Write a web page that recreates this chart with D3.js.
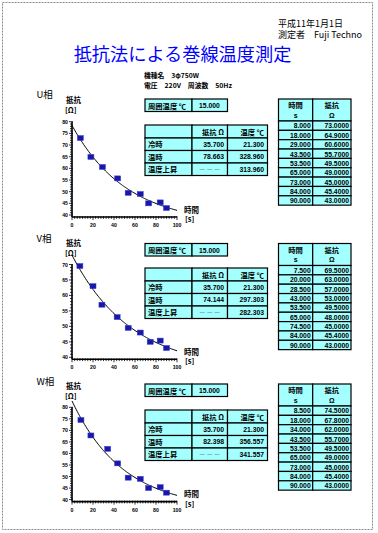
<!DOCTYPE html>
<html><head><meta charset="utf-8">
<script src="https://cdn.jsdelivr.net/npm/d3@7"></script>
<style>body{margin:0;background:#fff}svg{display:block}</style>
</head><body><svg id="c" width="378" height="533"></svg>
<script>
// ---------- data ----------
const phases = ["U相", "V相", "W相"];
const timesU = [8, 18, 29, 43.5, 53.5, 65, 73, 84, 90];
const resU   = [73, 64.9, 60.6, 55.7, 49.5, 49, 45, 45.4, 43];
const timesV = [7.5, 20, 28.5, 43, 53.5, 65, 74.5, 84, 90];
const resV   = [69.5, 63, 57, 53, 49.5, 48, 45, 45.4, 43];
const timesW = [8.5, 18, 34, 43.5, 53.5, 65, 73, 84, 90];
const resW   = [74.5, 67.8, 62, 55.7, 49.5, 49, 45, 45.4, 43];
const ambientTemp = [15, 15, 15];
const coldRes  = [35.7, 35.7, 35.7];
const coldTemp = [21.3, 21.3, 21.3];
const hotRes   = [78.663, 74.144, 82.398];
const hotTemp  = [328.960, 297.303, 356.557];
const riseTemp = [313.960, 282.303, 341.557];
const yMaxes = [80, 70, 80];
const yMin = 40;
const xTicks = [0, 20, 40, 60, 80, 100];
const dateText = "平成11年1月1日";
const measurer = "測定者　Fuji Techno";
const titleText = "抵抗法による巻線温度測定";
const modelText = "機種名　3φ750W";
const voltText = "電圧　220V　周波数　50Hz";

const seriesT = [timesU, timesV, timesW];
const seriesR = [resU, resV, resW];

// ---------- layout ----------
const layout = [
  {label: 94, top: 121.7, bot: 215, box: 99, tab: 125, rt: 99},
  {label: 238, top: 264.5, bot: 357.3, box: 243.5, tab: 268, rt: 243.5},
  {label: 380.5, top: 407.3, bot: 499.6, box: 384, tab: 410, rt: 384}
];
const CYAN = "#a4ffff";
const JP = "'Noto Sans CJK JP','Noto Sans',sans-serif";
const NUM = "'Liberation Sans',Arial,sans-serif";

const svg = d3.select("#c");
svg.append("rect").attr("x", 2.5).attr("y", 2.5).attr("width", 370).attr("height", 527)
  .attr("fill", "#fff").attr("stroke", "#8a8a8a").attr("stroke-dasharray", "2,1");

function txt(x, y, s, o = {}) {
  const t = svg.append("text").attr("x", x).attr("y", y).text(s)
    .attr("font-family", o.ff || JP).attr("font-size", o.fs || 7.5)
    .attr("font-weight", o.fw || "bold").attr("fill", o.fill || "#000")
    .attr("text-anchor", o.a || "start").attr("dominant-baseline", "central");
  if (o.len) t.attr("textLength", o.len).attr("lengthAdjust", "spacingAndGlyphs");
  return t;
}

txt(278, 23, dateText, {fs: 9, fw: "normal"});
txt(278, 34.5, measurer, {fs: 9, fw: "normal"});
txt(182.5, 53, titleText, {fs: 18.2, fw: "normal", fill: "#0000ff", a: "middle"});
txt(144, 75.3, modelText, {fs: 6.6, len: 55});
txt(144, 85, voltText, {fs: 6.6, len: 88});

// cooling-curve fit: ln(R - Rcold) = a + b t  (curve approaches the cold resistance)
function coolFit(ts, rs, base) {
  const ly = rs.map(r => Math.log(r - base));
  const mx = d3.mean(ts), my = d3.mean(ly);
  let sxy = 0, sxx = 0;
  ts.forEach((t, k) => { sxy += (t - mx) * (ly[k] - my); sxx += (t - mx) * (t - mx); });
  const b = sxy / sxx, a = my - b * mx;
  return t => base + Math.exp(a + b * t);
}

function cell(x, y, w, h) {
  svg.append("rect").attr("x", x).attr("y", y).attr("width", w).attr("height", h)
    .attr("fill", CYAN).attr("stroke", "#000").attr("stroke-width", 1.2);
}

phases.forEach((ph, i) => {
  const L = layout[i];
  const T = seriesT[i], R = seriesR[i];
  txt(36.5, L.label, ph, {fs: 9.5, fw: "normal"});

  // ---- chart ----
  const x = d3.scaleLinear().domain([0, 100]).range([72, 177]);
  const y = d3.scaleLinear().domain([yMin, yMaxes[i]]).range([L.bot, L.top]);
  const axisY = L.bot + 2;
  const g = svg.append("g");
  d3.range(yMin, yMaxes[i] + 0.01, 1).forEach(v => {
    const major = v % 5 === 0;
    g.append("line").attr("x1", 72 - (major ? 3 : 2)).attr("x2", 72 + (major ? 1 : 0.5))
      .attr("y1", y(v)).attr("y2", y(v)).attr("stroke", "#000").attr("stroke-width", 0.8);
    if (major) txt(68, y(v), String(v), {ff: NUM, fs: 5.2, a: "end"});
  });
  d3.range(0, 100.01, 2.5).forEach(v => {
    const major = v % 20 === 0;
    g.append("line").attr("x1", x(v)).attr("x2", x(v))
      .attr("y1", axisY - 1).attr("y2", axisY + (major ? 3 : 1.8))
      .attr("stroke", "#000").attr("stroke-width", 0.8);
  });
  xTicks.forEach(v => txt(x(v), axisY + 8, String(v), {ff: NUM, fs: 5.2, a: "middle"}));
  g.append("line").attr("x1", 72).attr("x2", 72).attr("y1", y(yMaxes[i])).attr("y2", axisY)
    .attr("stroke", "#000").attr("stroke-width", 1.6);
  g.append("line").attr("x1", 72).attr("x2", 177).attr("y1", axisY).attr("y2", axisY)
    .attr("stroke", "#000").attr("stroke-width", 1.6);
  txt(66, L.top - 22, "抵抗", {fs: 7.5});
  txt(65, L.top - 12, "[Ω]", {fs: 7.5});
  txt(184, axisY - 8, "時間", {fs: 7.5});
  txt(185, axisY + 1.5, "[s]", {fs: 7.5});

  const f = coolFit(T, R, coldRes[i]);
  const curve = d3.range(0, 100.01, 1).map(v => [x(v), y(f(v))]);
  g.append("path").attr("d", d3.line()(curve)).attr("fill", "none")
    .attr("stroke", "#000").attr("stroke-width", 1);
  T.forEach((t, k) => {
    g.append("rect").attr("x", x(t) - 3).attr("y", y(R[k]) - 2.5).attr("width", 6).attr("height", 5)
      .attr("fill", "#1818a8").attr("stroke", "#3c3cd0").attr("stroke-width", 0.5);
  });

  // ---- ambient box ----
  cell(145, L.box, 47, 12.5); cell(192, L.box, 35.5, 12.5);
  txt(148, L.box + 6.5, "周囲温度 ℃", {fs: 7.3});
  txt(209.5, L.box + 6.5, ambientTemp[i].toFixed(3), {ff: NUM, fs: 6.8, a: "middle"});

  // ---- main table ----
  const cols = [145, 192, 227.5, 267.5];
  const rowsY = [L.tab, L.tab + 13, L.tab + 25.5, L.tab + 38, L.tab + 50.5];
  for (let r = 0; r < 4; r++) for (let c = 0; c < 3; c++)
    cell(cols[c], rowsY[r], cols[c + 1] - cols[c], rowsY[r + 1] - rowsY[r]);
  const mid = r => (rowsY[r] + rowsY[r + 1]) / 2;
  txt(224, mid(0), "抵抗 Ω", {fs: 7.3, a: "end"});
  txt(264, mid(0), "温度 ℃", {fs: 7.3, a: "end"});
  txt(148, mid(1), "冷時", {fs: 7.3});
  txt(148, mid(2), "温時", {fs: 7.3});
  txt(148, mid(3), "温度上昇", {fs: 7.3});
  txt(224, mid(1), coldRes[i].toFixed(3), {ff: NUM, fs: 6.8, a: "end"});
  txt(264, mid(1), coldTemp[i].toFixed(3), {ff: NUM, fs: 6.8, a: "end"});
  txt(224, mid(2), hotRes[i].toFixed(3), {ff: NUM, fs: 6.8, a: "end"});
  txt(264, mid(2), hotTemp[i].toFixed(3), {ff: NUM, fs: 6.8, a: "end"});
  txt(220, mid(3), "― ― ―", {fs: 6, a: "end", fw: "normal"});
  txt(264, mid(3), riseTemp[i].toFixed(3), {ff: NUM, fs: 6.8, a: "end"});

  // ---- data table ----
  const rc = [278.5, 312.7, 351];
  const hh = 22, rh = 9.35;
  cell(rc[0], L.rt, rc[1] - rc[0], hh); cell(rc[1], L.rt, rc[2] - rc[1], hh);
  txt((rc[0] + rc[1]) / 2, L.rt + 6, "時間", {fs: 7.3, a: "middle"});
  txt((rc[0] + rc[1]) / 2, L.rt + 16, "s", {ff: NUM, fs: 7, a: "middle"});
  txt((rc[1] + rc[2]) / 2, L.rt + 6, "抵抗", {fs: 7.3, a: "middle"});
  txt((rc[1] + rc[2]) / 2, L.rt + 16, "Ω", {ff: NUM, fs: 7, a: "middle"});
  T.forEach((t, k) => {
    const yy = L.rt + hh + k * rh;
    cell(rc[0], yy, rc[1] - rc[0], rh); cell(rc[1], yy, rc[2] - rc[1], rh);
    txt(rc[1] - 2, yy + rh / 2 + 0.3, t.toFixed(3), {ff: NUM, fs: 6.8, a: "end"});
    txt(rc[2] - 2, yy + rh / 2 + 0.3, R[k].toFixed(4), {ff: NUM, fs: 6.8, a: "end"});
  });
});
</script></body></html>
